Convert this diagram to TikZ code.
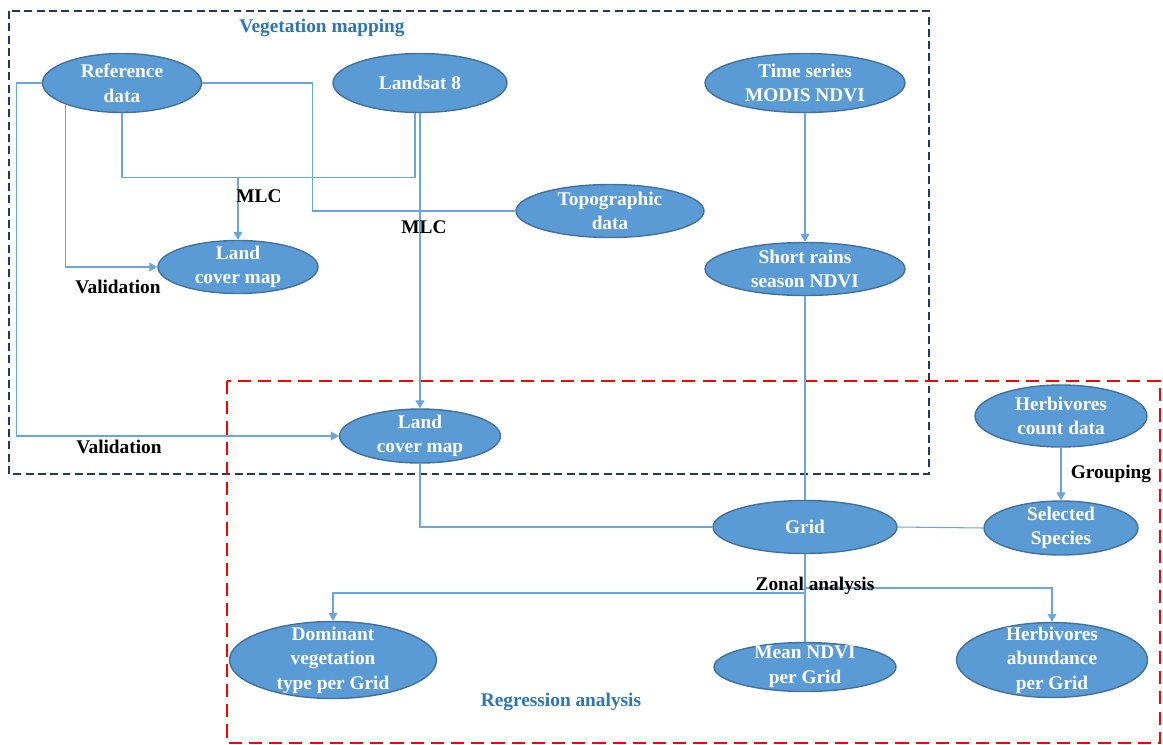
\documentclass[tikz,border=0pt]{standalone}
\usepackage{fontspec}
\setmainfont{Liberation Serif}
\usetikzlibrary{shapes.geometric,arrows.meta}

\definecolor{blobfill}{RGB}{91,155,213}
\definecolor{blobedge}{RGB}{65,113,156}
\definecolor{linkcol}{RGB}{105,165,222}
\definecolor{navyframe}{RGB}{31,56,100}
\definecolor{titleblue}{RGB}{46,117,182}

\begin{document}
\begin{tikzpicture}[x=0.02cm, y=-0.02cm,
        blob/.style={ellipse, draw=blobedge, fill=blobfill, line width=0.8pt, text=white,
            font=\fontsize{11}{14}\selectfont\bfseries, align=center,
            inner xsep=0pt, inner ysep=-5pt},
        link/.style={draw=linkcol, line width=0.6pt},
        tip/.style={-{Triangle[width=5pt,length=4.5pt]}},
        lbl/.style={font=\fontsize{11}{14}\selectfont\bfseries, text=black},
        ttl/.style={font=\fontsize{11}{14}\selectfont\bfseries, text=titleblue}]
        \useasboundingbox (0,0) rectangle (1163,744);

        % -- frames --------------------------------------------------------------
        \draw[navyframe, line width=1.1pt, dash pattern=on 4.5pt off 2.5pt] (9,11) rectangle (929,474);
        \draw[red, line width=1.1pt, dash pattern=on 7.5pt off 4pt] (227,381) rectangle (1160,743);
        \node[ttl] (vegtitle) at (322,28) {Vegetation mapping};
        \node[ttl] (regtitle) at (561,702) {Regression analysis};

        % -- input data ----------------------------------------------------------
        \node[blob, minimum width=3.18cm, minimum height=1.18cm] (ref) at (122,83) {Reference\\data};
        \node[blob, minimum width=3.48cm, minimum height=1.18cm] (landsat) at (420,83) {Landsat 8};
        \node[blob, minimum width=4.0cm, minimum height=1.18cm] (modis) at (805,83) {Time series\\MODIS NDVI};
        \node[blob, minimum width=3.76cm, minimum height=1.06cm] (topo) at (610,211) {Topographic\\data};

        % -- derived maps --------------------------------------------------------
        \node[blob, minimum width=3.2cm, minimum height=1.06cm] (lcmA) at (238,267) {Land\\cover map};
        \node[blob, minimum width=4.0cm, minimum height=1.06cm] (rains) at (805,269) {Short rains\\season NDVI};
        \node[blob, minimum width=3.22cm, minimum height=1.08cm] (lcmB) at (420,436) {Land\\cover map};
        \node[blob, minimum width=3.44cm, minimum height=1.24cm] (herb) at (1061,416) {Herbivores\\count data};
        \node[blob, minimum width=3.68cm, minimum height=1.06cm] (grid) at (805,527) {Grid};
        \node[blob, minimum width=3.08cm, minimum height=1.08cm] (species) at (1061,528) {Selected\\Species};

        % -- per grid outputs ----------------------------------------------------
        \node[blob, minimum width=4.14cm, minimum height=1.54cm] (dominant) at (333,660) {Dominant\\vegetation\\type per Grid};
        \node[blob, minimum width=3.64cm, minimum height=0.98cm] (meanndvi) at (805,667) {Mean NDVI\\per Grid};
        \node[blob, minimum width=3.82cm, minimum height=1.5cm] (abund) at (1052,660) {Herbivores\\abundance\\per Grid};

        % -- vegetation mapping links --------------------------------------------
        \draw[link, tip] (ref.west) -- ++(-25,0) |- (lcmB.west);
        \draw[link, tip] (ref.south west) |- (lcmA.west);
        \draw[link] (ref.south) -- ++(0,64) coordinate (mlc) -| ([xshift=-0.1cm]landsat.south);
        \draw[link, tip] (mlc -| lcmA.north) -- (lcmA.north);
        \draw[link] (ref.east) -- ++(110,0) |- (topo.west);
        \draw[link, tip] (landsat.south) -- (lcmB.north);
        \draw[link, tip] (modis) -- (rains);
        \node[lbl] (mlcA) at (259,196) {MLC};
        \node[lbl] (mlcB) at (424,227) {MLC};
        \node[lbl] (valA) at (118,287) {Validation};
        \node[lbl] (valB) at (119,447) {Validation};

        % -- grid links ----------------------------------------------------------
        \draw[link] (rains) -- (grid);
        \draw[link] (lcmB.south) |- (grid.west);
        \draw[link] (grid.east) -- (species.west);
        \draw[link, tip] (herb) -- (species) node[midway, right=2pt, lbl] (grouping) {Grouping};

        % -- zonal analysis ------------------------------------------------------
        \coordinate (zonalL) at (805,593);
        \coordinate (zonalR) at (805,588);
        \draw[link] (grid.south) -- (meanndvi.north);
        \draw[link, tip] (zonalL) -| (dominant.north);
        \draw[link, tip] (zonalR) -| (abund.north);
        \node[lbl] (zonal) at (815,586) {Zonal analysis};
    \end{tikzpicture}
\end{document}
